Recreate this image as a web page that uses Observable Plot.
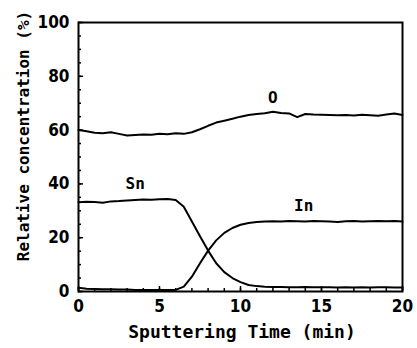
<!DOCTYPE html>
<html>
<head>
<meta charset="utf-8">
<script src="https://cdn.jsdelivr.net/npm/d3@7"></script>
<script src="https://cdn.jsdelivr.net/npm/@observablehq/plot@0.6"></script>
<style>
  html, body { margin: 0; padding: 0; background: #fff; }
  svg { display: block; }
</style>
</head>
<body>
<div id="chart"></div>
<script>
const times = [0,0.5,1,1.5,2,2.5,3,3.5,4,4.5,5,5.5,6,6.5,7,7.5,8,8.5,9,9.5,10,10.5,11,11.5,12,12.5,13,13.5,14,14.5,15,15.5,16,16.5,17,17.5,18,18.5,19,19.5,20];
const oxygen = [60,59.6,59.0,58.8,59.2,58.6,58.0,58.2,58.4,58.3,58.6,58.5,58.8,58.6,59.2,60.3,61.6,62.8,63.5,64.2,65.0,65.6,66.0,66.3,66.8,66.4,66.2,64.8,66.0,65.8,65.7,65.6,65.5,65.6,65.4,65.7,65.5,65.3,65.8,66.2,65.6];
const tin = [33.2,33.4,33.3,33.0,33.5,33.6,33.8,34.0,34.2,34.1,34.3,34.4,34.0,31.5,26.0,20.5,15.2,10.5,7.2,5.0,3.5,2.4,2.0,1.8,1.7,1.7,1.6,1.6,1.7,1.6,1.6,1.6,1.5,1.6,1.5,1.6,1.5,1.6,1.6,1.5,1.5];
const indium = [1.4,1.0,0.9,0.8,0.8,0.7,0.7,0.6,0.6,0.6,0.6,0.6,0.6,1.8,5.5,10.5,15.2,19.0,21.8,23.6,24.8,25.5,25.8,26.0,26.1,26.0,26.2,26.1,26.0,26.2,26.1,26.0,25.8,26.1,26.2,26.0,26.1,26.2,26.1,26.2,26.0];
const seriesNames = ["O", "Sn", "In"];
const labelPos = [{name: "O", t: 12.0, v: 72.1}, {name: "Sn", t: 3.5, v: 40.1}, {name: "In", t: 13.9, v: 32.0}];
const xTicks = [0, 5, 10, 15, 20];
const yTicks = [0, 20, 40, 60, 80, 100];

const rows = [];
[oxygen, tin, indium].forEach((arr, i) => {
  arr.forEach((v, j) => rows.push({series: seriesNames[i], t: times[j], v}));
});

const tickFont = "'Liberation Sans Narrow', 'Arial Narrow', 'DejaVu Sans Condensed', sans-serif";
const monoFont = "'DejaVu Sans Mono', monospace";

const chart = Plot.plot({
  width: 417,
  height: 348,
  marginLeft: 78,
  marginRight: 15,
  marginTop: 22,
  marginBottom: 57,
  x: {domain: [0, 20], label: null},
  y: {domain: [0, 100], label: null},
  style: {background: "#fff", color: "#000"},
  marks: [
    Plot.line(rows, {x: "t", y: "v", z: "series", stroke: "#000", strokeWidth: 2, curve: "linear"}),
    Plot.axisX({ticks: d3.range(0, 21, 1), tickSize: -3, text: null, label: null, strokeWidth: 1.5}),
    Plot.axisX({ticks: xTicks, tickSize: -5, text: null, label: null, strokeWidth: 1.5}),
    Plot.axisX({ticks: xTicks, tickSize: 0, tickPadding: 8, fontSize: 17, fontWeight: "bold", fontFamily: tickFont, label: null}),
    Plot.axisY({ticks: d3.range(0, 101, 5), tickSize: -3, text: null, label: null, strokeWidth: 1.5}),
    Plot.axisY({ticks: yTicks, tickSize: -5, text: null, label: null, strokeWidth: 1.5}),
    Plot.axisY({ticks: yTicks, tickSize: 0, tickPadding: 9, fontSize: 17, fontWeight: "bold", fontFamily: tickFont, label: null}),
    Plot.frame({stroke: "#000", strokeWidth: 2}),
    Plot.text(labelPos, {x: "t", y: "v", text: "name", fontSize: 16, fontFamily: monoFont, fontWeight: "bold"})
  ]
});

const svg = d3.select(chart);
svg.append("text")
  .attr("x", 242).attr("y", 338)
  .attr("text-anchor", "middle")
  .attr("font-family", monoFont)
  .attr("font-size", 18)
  .attr("font-weight", "bold")
  .attr("fill", "#000")
  .text("Sputtering Time (min)");
svg.append("text")
  .attr("transform", "translate(29,136) rotate(-90)")
  .attr("text-anchor", "middle")
  .attr("font-family", monoFont)
  .attr("font-size", 16)
  .attr("font-weight", "bold")
  .attr("fill", "#000")
  .text("Relative concentration (%)");

document.getElementById("chart").appendChild(chart);
</script>
</body>
</html>
